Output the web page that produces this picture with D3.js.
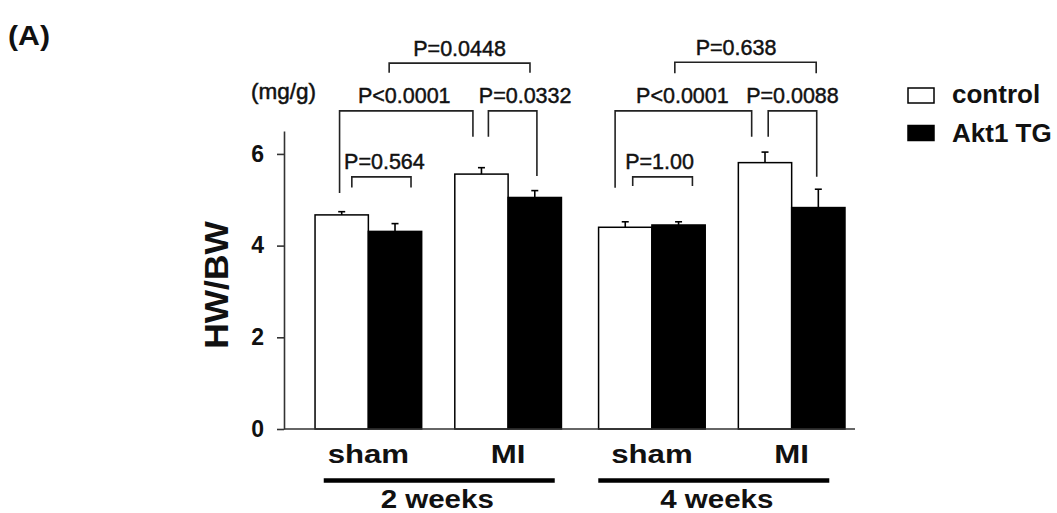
<!DOCTYPE html>
<html><head><meta charset="utf-8">
<script src="https://cdn.jsdelivr.net/npm/d3@7/dist/d3.min.js"></script>
<style>
body{margin:0;background:#fff}
svg{display:block}
text{font-family:"Liberation Sans",Arial,Helvetica,sans-serif;fill:#111}
</style>
</head><body>
<svg id="chart" width="1057" height="513"></svg>
<script>
// ---------- data ----------
const periods = ["2 weeks", "4 weeks"];
const conditions = ["sham", "MI"];
const series = ["control", "Akt1 TG"];
const controlMean = [4.67, 5.56, 4.40, 5.81];   // 2w sham, 2w MI, 4w sham, 4w MI
const controlSE   = [0.07, 0.14, 0.12, 0.23];
const aktMean     = [4.31, 5.05, 4.45, 4.83];
const aktSE       = [0.17, 0.15, 0.07, 0.40];
const yTicks = [0, 2, 4, 6];
const yUnit = "(mg/g)";
const yTitle = "HW/BW";
const panelLabel = "(A)";

// significance brackets
const pLabels   = ["P=0.564", "P<0.0001", "P=0.0332", "P=0.0448", "P=1.00", "P<0.0001", "P=0.0088", "P=0.638"];
const pFromBar  = [[0,0], [0,0], [1,0], [0,1], [2,0], [2,0], [3,0], [2,1]]; // [cluster, series]
const pToBar    = [[0,1], [1,0], [1,1], [1,1], [2,1], [3,0], [3,1], [3,1]];
const pTop      = [5.50, 6.94, 6.94, 7.98, 5.50, 6.94, 6.94, 8.00];
const pFromEnd  = [5.27, 5.15, 6.375, 7.77, 5.30, 5.26, 6.375, 7.76];
const pToEnd    = [5.27, 6.375, 5.52, 7.77, 5.30, 6.375, 5.50, 7.76];

// ---------- layout (annotation geometry, not data) ----------
const pFromFrac = [0.69, 0.46, 0.63, 0.39, 0.64, 0.31, 0.56, 0.43];
const pToFrac   = [0.80, 0.34, 0.54, 0.41, 0.76, 0.25, 0.47, 0.46];
const pLabelDx  = [3, -2, 12.5, 0, -3, -1, 0, -9.5];

const svg = d3.select("#chart");
const X0 = 284, X1 = 855, Y0 = 429, YTOP = 131;

const y = d3.scaleLinear().domain([0, 6.5]).range([Y0, YTOP]);
const xPeriod = d3.scaleBand().domain(periods).range([X0, X1])
  .paddingInner(0.131).paddingOuter(0.0724).align(0.756);
const xCond = d3.scaleBand().domain(conditions).range([0, xPeriod.bandwidth()])
  .paddingInner(0.237).paddingOuter(0);
const xSeries = d3.scaleBand().domain(series).range([0, xCond.bandwidth()]).padding(0);

const clusters = [];
periods.forEach(p => conditions.forEach(c => clusters.push({p, c})));
const clusterX = i => xPeriod(clusters[i].p) + xCond(clusters[i].c);
const barX = (ci, si) => clusterX(ci) + xSeries(series[si]);

const means = [controlMean, aktMean];
const ses = [controlSE, aktSE];
const fills = ["#ffffff", "#000000"];

const bars = [];
clusters.forEach((cl, ci) => series.forEach((s, si) => {
  bars.push({ci, si, mean: means[si][ci], se: ses[si][ci]});
}));

// bars
svg.append("g").selectAll("rect").data(bars).join("rect")
  .attr("x", d => barX(d.ci, d.si))
  .attr("y", d => y(d.mean))
  .attr("width", xSeries.bandwidth())
  .attr("height", d => y(0) - y(d.mean))
  .attr("fill", d => fills[d.si])
  .attr("stroke", "#000").attr("stroke-width", 1.5);

// error bars
const eb = svg.append("g").attr("stroke", "#000").attr("stroke-width", 1.6);
bars.forEach(d => {
  const cx = barX(d.ci, d.si) + xSeries.bandwidth() / 2;
  eb.append("line").attr("x1", cx).attr("x2", cx).attr("y1", y(d.mean)).attr("y2", y(d.mean + d.se));
  eb.append("line").attr("x1", cx - 3.5).attr("x2", cx + 3.5).attr("y1", y(d.mean + d.se)).attr("y2", y(d.mean + d.se));
});

// y axis
const yAxis = d3.axisLeft(y).tickValues(yTicks).tickSize(7).tickSizeOuter(0).tickPadding(13)
  .tickFormat(d3.format("d"));
const ga = svg.append("g").attr("transform", `translate(${X0},0)`).call(yAxis);
ga.select(".domain").attr("stroke", "#333").attr("stroke-width", 1.6);
ga.selectAll(".tick line").attr("stroke", "#333").attr("stroke-width", 1.6);
ga.selectAll(".tick text").attr("font-size", 23).attr("font-weight", "bold")
  .attr("font-family", '"Liberation Sans",Arial,sans-serif').attr("fill", "#111");

// x baseline
svg.append("line").attr("x1", X0).attr("x2", X1).attr("y1", y(0)).attr("y2", y(0))
  .attr("stroke", "#333").attr("stroke-width", 1.6);

// y title & unit
svg.append("text").attr("transform", `translate(228,${(y(0) + y(6.5)) / 2 + 5}) rotate(-90) scale(1.04,1)`)
  .attr("text-anchor", "middle").attr("font-size", 34).attr("font-weight", "bold").text(yTitle);
svg.append("text").attr("x", 251).attr("y", 99).attr("font-size", 22.5)
  .attr("stroke", "#111").attr("stroke-width", 0.5).text(yUnit);

// panel label
svg.append("text").attr("transform", "translate(8,45) scale(1.12,1)")
  .attr("font-size", 27).attr("font-weight", "bold").text(panelLabel);

// condition labels (wide bold lettering)
svg.append("g").selectAll("text").data(clusters).join("text")
  .attr("transform", (d, i) => `translate(${clusterX(i) + xCond.bandwidth() / 2},463) scale(1.2,1)`)
  .attr("text-anchor", "middle").attr("font-size", 26).attr("font-weight", "bold")
  .text(d => d.c);

// period underline + labels
const periodShift = [1, -8];
const periodTextShift = [-1, -5];
periods.forEach((p, i) => {
  const c = xPeriod(p) + xPeriod.bandwidth() / 2;
  svg.append("line").attr("x1", c + periodShift[i] - 115.5).attr("x2", c + periodShift[i] + 115.5)
    .attr("y1", 480.5).attr("y2", 480.5).attr("stroke", "#000").attr("stroke-width", 4.5);
  svg.append("text").attr("transform", `translate(${c + periodTextShift[i]},508) scale(1.18,1)`)
    .attr("text-anchor", "middle").attr("font-size", 25).attr("font-weight", "bold")
    .text(p);
});

// brackets
const gb = svg.append("g");
pLabels.forEach((lab, i) => {
  const xa = barX(pFromBar[i][0], pFromBar[i][1]) + pFromFrac[i] * xSeries.bandwidth();
  const xb = barX(pToBar[i][0], pToBar[i][1]) + pToFrac[i] * xSeries.bandwidth();
  const yt = y(pTop[i]);
  gb.append("path")
    .attr("d", `M${xa},${y(pFromEnd[i])}V${yt}H${xb}V${y(pToEnd[i])}`)
    .attr("fill", "none").attr("stroke", "#222").attr("stroke-width", 1.6);
  gb.append("text").attr("x", (xa + xb) / 2 + pLabelDx[i]).attr("y", yt - 7.5)
    .attr("text-anchor", "middle").attr("font-size", 21.5)
    .attr("stroke", "#111").attr("stroke-width", 0.45).text(lab);
});

// legend
const lg = svg.append("g");
series.forEach((s, i) => {
  lg.append("rect").attr("x", 908).attr("y", 88 + i * 37.5).attr("width", 26).attr("height", 15)
    .attr("fill", fills[i]).attr("stroke", "#000").attr("stroke-width", 1.5);
  lg.append("text").attr("x", 952).attr("y", 103 + i * 38.5).attr("font-size", 26)
    .attr("font-weight", "bold").text(s);
});
</script>
</body></html>
